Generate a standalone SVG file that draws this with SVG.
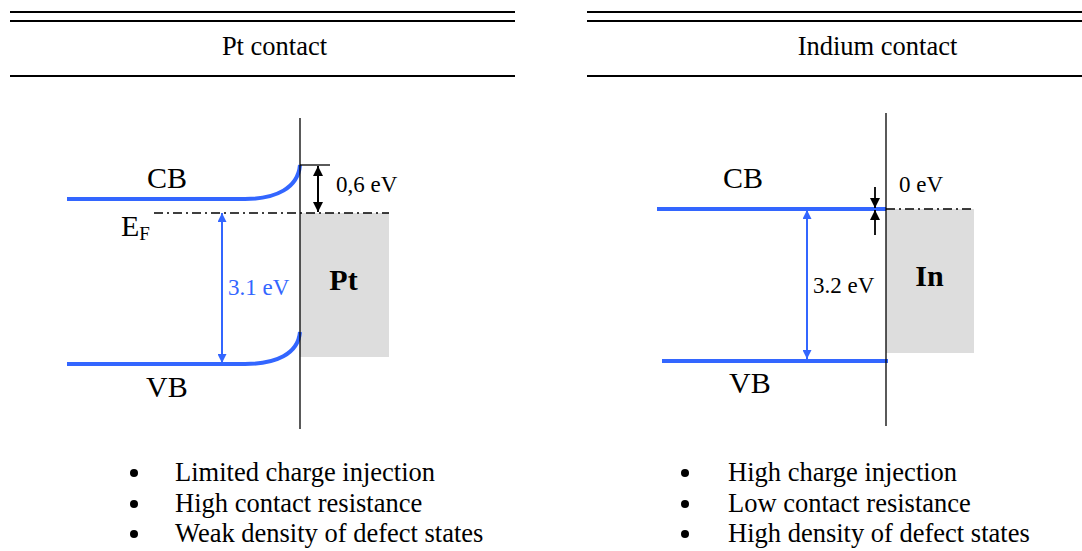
<svg xmlns="http://www.w3.org/2000/svg" width="1082" height="551" viewBox="0 0 1082 551">
<defs>
<marker id="ab" viewBox="0 0 10 10" refX="10" refY="5" markerWidth="10" markerHeight="9" markerUnits="userSpaceOnUse" orient="auto-start-reverse"><path d="M0,0 L10,5 L0,10 Z" fill="#3366ff"/></marker>
<marker id="ak" viewBox="0 0 10 10" refX="10" refY="5" markerWidth="11" markerHeight="10" markerUnits="userSpaceOnUse" orient="auto-start-reverse"><path d="M0,0 L10,5 L0,10 Z" fill="#000"/></marker>
</defs>
<style>
text{font-family:"Liberation Serif","Times New Roman",serif;fill:#000}
.t{font-size:26.5px}
.band{font-size:30px}
.ev{font-size:23px}
.m{font-size:30px;font-weight:bold}
.rule{stroke:#000;stroke-width:1.8;fill:none}
.lvl{stroke:#3366ff;stroke-width:4;fill:none}
.iface{stroke:#000;stroke-width:1.3}
.ef{stroke:#000;stroke-width:1.5;stroke-dasharray:9 4 2 4}
.metal{fill:#dddddd}
</style>
<rect width="1082" height="551" fill="#fff"/>
<g id="left-header">
<line class="rule" x1="10" y1="12" x2="515" y2="12"/>
<line class="rule" x1="10" y1="21" x2="515" y2="21"/>
<line class="rule" x1="10" y1="76" x2="515" y2="76"/>
<text class="t" x="274.5" y="55" text-anchor="middle">Pt contact</text>
</g>
<g id="right-header">
<line class="rule" x1="587" y1="12" x2="1082" y2="12"/>
<line class="rule" x1="587" y1="21" x2="1082" y2="21"/>
<line class="rule" x1="587" y1="76" x2="1082" y2="76"/>
<text class="t" x="877.5" y="55" text-anchor="middle">Indium contact</text>
</g>
<g id="pt-metal">
<rect class="metal" x="300" y="213" width="89" height="144"/>
<text class="m" x="343.5" y="290" text-anchor="middle">Pt</text>
</g>
<g id="in-metal">
<rect class="metal" x="886" y="209" width="88" height="144"/>
<text class="m" x="929.5" y="286" text-anchor="middle">In</text>
</g>
<g id="pt-bands">
<path class="lvl" d="M67,199 H245 C276,199 298,188 300,165"/>
<path class="lvl" d="M67,364 H245 C276,364 298,354 300,332"/>
<line class="ef" x1="154" y1="213" x2="389" y2="213"/>
<text class="band" x="147" y="188">CB</text>
<text class="band" x="146" y="397">VB</text>
<text class="band" x="121" y="236">E<tspan font-size="19" dy="4">F</tspan></text>
<line class="iface" x1="300" y1="118" x2="300" y2="429"/>
</g>
<g id="in-bands">
<line class="lvl" x1="657" y1="209" x2="886" y2="209"/>
<line class="lvl" x1="662" y1="361" x2="888" y2="361"/>
<line class="ef" x1="886" y1="209" x2="974" y2="209"/>
<text class="band" x="723" y="188">CB</text>
<text class="band" x="729" y="393">VB</text>
<line class="iface" x1="886" y1="113" x2="886" y2="426"/>
</g>
<g id="connectors">
<line x1="222" y1="213" x2="222" y2="363" stroke="#3366ff" stroke-width="2" marker-start="url(#ab)" marker-end="url(#ab)"/>
<text class="ev" x="228" y="295" fill="#3366ff" style="fill:#3366ff">3.1 eV</text>
<line x1="300" y1="165" x2="330" y2="165" stroke="#000" stroke-width="1.3"/>
<line x1="318" y1="166" x2="318" y2="212" stroke="#000" stroke-width="2" marker-start="url(#ak)" marker-end="url(#ak)"/>
<text class="ev" x="336" y="192">0,6 eV</text>
<line x1="807" y1="210" x2="807" y2="359" stroke="#3366ff" stroke-width="2" marker-start="url(#ab)" marker-end="url(#ab)"/>
<text class="ev" x="813" y="293">3.2 eV</text>
<line x1="875" y1="187" x2="875" y2="208" stroke="#000" stroke-width="1.8" marker-end="url(#ak)"/>
<line x1="875" y1="235" x2="875" y2="210" stroke="#000" stroke-width="1.8" marker-end="url(#ak)"/>
<text class="ev" x="899" y="192">0 eV</text>
</g>
<g id="pt-list">
<circle cx="134" cy="473" r="4"/>
<circle cx="134" cy="504" r="4"/>
<circle cx="134" cy="534" r="4"/>
<text class="t" x="175" y="481">Limited charge injection</text>
<text class="t" x="175" y="512">High contact resistance</text>
<text class="t" x="175" y="542">Weak density of defect states</text>
</g>
<g id="in-list">
<circle cx="685" cy="473" r="4"/>
<circle cx="685" cy="504" r="4"/>
<circle cx="685" cy="534" r="4"/>
<text class="t" x="728" y="481">High charge injection</text>
<text class="t" x="728" y="512">Low contact resistance</text>
<text class="t" x="728" y="542">High density of defect states</text>
</g>
</svg>
